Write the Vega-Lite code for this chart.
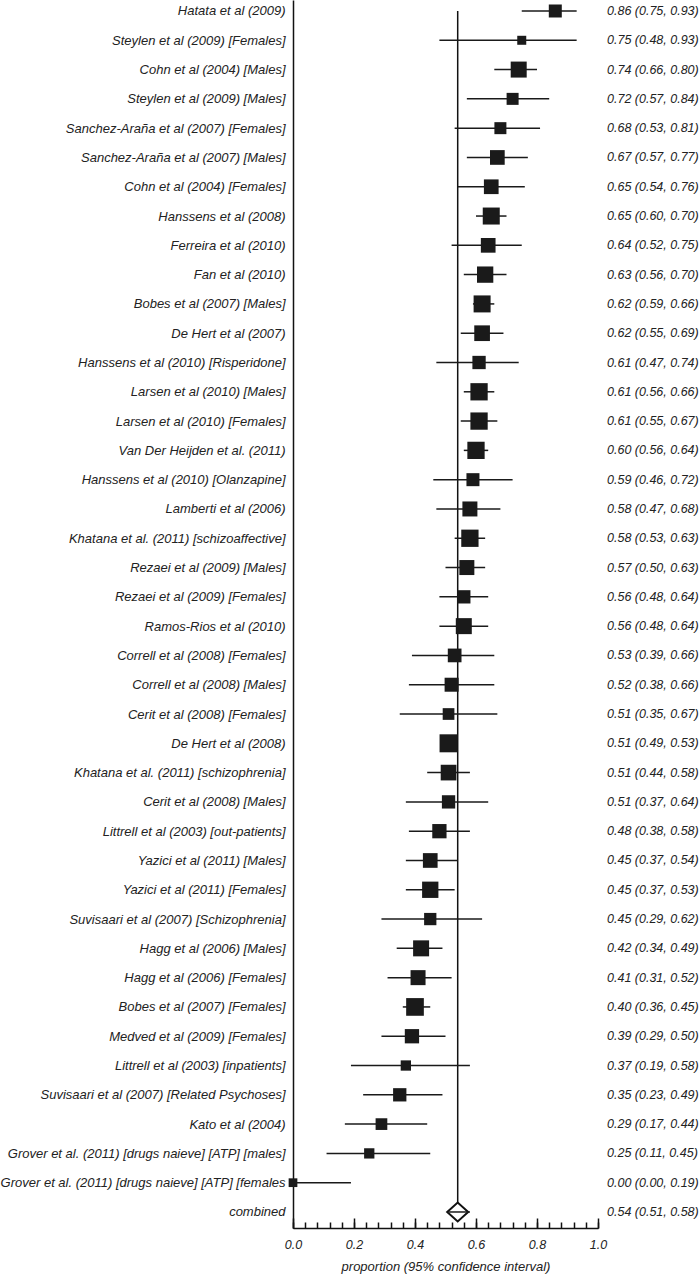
{
  "$schema": "https://vega.github.io/schema/vega-lite/v6.json",
  "width": 305,
  "height": 1228,
  "autosize": {"type": "none"},
  "padding": {"left": 293, "top": 0, "right": 102, "bottom": 46},
  "background": "white",
  "config": {
    "view": {"stroke": null},
    "font": "Liberation Sans",
    "axis": {"labelFont": "Liberation Sans", "titleFont": "Liberation Sans", "labelColor": "#222", "titleColor": "#222", "grid": false}
  },
  "data": {"values": [
    {"label": "Hatata et al (2009)", "est": 0.86, "lo": 0.75, "hi": 0.93, "weight": 16.9, "ci": "0.86 (0.75, 0.93)", "type": "study"},
    {"label": "Steylen et al (2009) [Females]", "est": 0.75, "lo": 0.48, "hi": 0.93, "weight": 8.1, "ci": "0.75 (0.48, 0.93)", "type": "study"},
    {"label": "Cohn et al (2004) [Males]", "est": 0.74, "lo": 0.66, "hi": 0.80, "weight": 25.6, "ci": "0.74 (0.66, 0.80)", "type": "study"},
    {"label": "Steylen et al (2009) [Males]", "est": 0.72, "lo": 0.57, "hi": 0.84, "weight": 14.4, "ci": "0.72 (0.57, 0.84)", "type": "study"},
    {"label": "Sanchez-Araña et al (2007) [Females]", "est": 0.68, "lo": 0.53, "hi": 0.81, "weight": 14.4, "ci": "0.68 (0.53, 0.81)", "type": "study"},
    {"label": "Sanchez-Araña et al (2007) [Males]", "est": 0.67, "lo": 0.57, "hi": 0.77, "weight": 21.6, "ci": "0.67 (0.57, 0.77)", "type": "study"},
    {"label": "Cohn et al (2004) [Females]", "est": 0.65, "lo": 0.54, "hi": 0.76, "weight": 21.6, "ci": "0.65 (0.54, 0.76)", "type": "study"},
    {"label": "Hanssens et al (2008)", "est": 0.65, "lo": 0.60, "hi": 0.70, "weight": 28.9, "ci": "0.65 (0.60, 0.70)", "type": "study"},
    {"label": "Ferreira et al (2010)", "est": 0.64, "lo": 0.52, "hi": 0.75, "weight": 21.6, "ci": "0.64 (0.52, 0.75)", "type": "study"},
    {"label": "Fan et al (2010)", "est": 0.63, "lo": 0.56, "hi": 0.70, "weight": 26.6, "ci": "0.63 (0.56, 0.70)", "type": "study"},
    {"label": "Bobes et al (2007) [Males]", "est": 0.62, "lo": 0.59, "hi": 0.66, "weight": 28.9, "ci": "0.62 (0.59, 0.66)", "type": "study"},
    {"label": "De Hert et al (2007)", "est": 0.62, "lo": 0.55, "hi": 0.69, "weight": 24.6, "ci": "0.62 (0.55, 0.69)", "type": "study"},
    {"label": "Hanssens et al (2010) [Risperidone]", "est": 0.61, "lo": 0.47, "hi": 0.74, "weight": 17.7, "ci": "0.61 (0.47, 0.74)", "type": "study"},
    {"label": "Larsen et al (2010) [Males]", "est": 0.61, "lo": 0.56, "hi": 0.66, "weight": 29.9, "ci": "0.61 (0.56, 0.66)", "type": "study"},
    {"label": "Larsen et al (2010) [Females]", "est": 0.61, "lo": 0.55, "hi": 0.67, "weight": 29.9, "ci": "0.61 (0.55, 0.67)", "type": "study"},
    {"label": "Van Der Heijden et al. (2011)", "est": 0.60, "lo": 0.56, "hi": 0.64, "weight": 29.9, "ci": "0.60 (0.56, 0.64)", "type": "study"},
    {"label": "Hanssens et al (2010) [Olanzapine]", "est": 0.59, "lo": 0.46, "hi": 0.72, "weight": 16.9, "ci": "0.59 (0.46, 0.72)", "type": "study"},
    {"label": "Lamberti et al (2006)", "est": 0.58, "lo": 0.47, "hi": 0.68, "weight": 22.5, "ci": "0.58 (0.47, 0.68)", "type": "study"},
    {"label": "Khatana et al. (2011) [schizoaffective]", "est": 0.58, "lo": 0.53, "hi": 0.63, "weight": 29.9, "ci": "0.58 (0.53, 0.63)", "type": "study"},
    {"label": "Rezaei et al (2009) [Males]", "est": 0.57, "lo": 0.50, "hi": 0.63, "weight": 22.5, "ci": "0.57 (0.50, 0.63)", "type": "study"},
    {"label": "Rezaei et al (2009) [Females]", "est": 0.56, "lo": 0.48, "hi": 0.64, "weight": 17.7, "ci": "0.56 (0.48, 0.64)", "type": "study"},
    {"label": "Ramos-Rios et al (2010)", "est": 0.56, "lo": 0.48, "hi": 0.64, "weight": 25.6, "ci": "0.56 (0.48, 0.64)", "type": "study"},
    {"label": "Correll et al (2008) [Females]", "est": 0.53, "lo": 0.39, "hi": 0.66, "weight": 18.8, "ci": "0.53 (0.39, 0.66)", "type": "study"},
    {"label": "Correll  et al (2008) [Males]", "est": 0.52, "lo": 0.38, "hi": 0.66, "weight": 19.6, "ci": "0.52 (0.38, 0.66)", "type": "study"},
    {"label": "Cerit et al (2008) [Females]", "est": 0.51, "lo": 0.35, "hi": 0.67, "weight": 13.7, "ci": "0.51 (0.35, 0.67)", "type": "study"},
    {"label": "De Hert et al (2008)", "est": 0.51, "lo": 0.49, "hi": 0.53, "weight": 32.4, "ci": "0.51 (0.49, 0.53)", "type": "study"},
    {"label": "Khatana et al. (2011) [schizophrenia]", "est": 0.51, "lo": 0.44, "hi": 0.58, "weight": 24.6, "ci": "0.51 (0.44, 0.58)", "type": "study"},
    {"label": "Cerit et al (2008) [Males]", "est": 0.51, "lo": 0.37, "hi": 0.64, "weight": 17.7, "ci": "0.51 (0.37, 0.64)", "type": "study"},
    {"label": "Littrell et al (2003) [out-patients]", "est": 0.48, "lo": 0.38, "hi": 0.58, "weight": 20.4, "ci": "0.48 (0.38, 0.58)", "type": "study"},
    {"label": "Yazici et al (2011) [Males]", "est": 0.45, "lo": 0.37, "hi": 0.54, "weight": 21.6, "ci": "0.45 (0.37, 0.54)", "type": "study"},
    {"label": "Yazici et al (2011) [Females]", "est": 0.45, "lo": 0.37, "hi": 0.53, "weight": 26.6, "ci": "0.45 (0.37, 0.53)", "type": "study"},
    {"label": "Suvisaari et al (2007) [Schizophrenia]", "est": 0.45, "lo": 0.29, "hi": 0.62, "weight": 15.1, "ci": "0.45 (0.29, 0.62)", "type": "study"},
    {"label": "Hagg et al (2006) [Males]", "est": 0.42, "lo": 0.34, "hi": 0.49, "weight": 25.6, "ci": "0.42 (0.34, 0.49)", "type": "study"},
    {"label": "Hagg et al (2006) [Females]", "est": 0.41, "lo": 0.31, "hi": 0.52, "weight": 22.5, "ci": "0.41 (0.31, 0.52)", "type": "study"},
    {"label": "Bobes et al (2007) [Females]", "est": 0.40, "lo": 0.36, "hi": 0.45, "weight": 31.3, "ci": "0.40 (0.36, 0.45)", "type": "study"},
    {"label": "Medved et al (2009) [Females]", "est": 0.39, "lo": 0.29, "hi": 0.50, "weight": 20.4, "ci": "0.39 (0.29, 0.50)", "type": "study"},
    {"label": "Littrell et al (2003) [inpatients]", "est": 0.37, "lo": 0.19, "hi": 0.58, "weight": 10.6, "ci": "0.37 (0.19, 0.58)", "type": "study"},
    {"label": "Suvisaari et al (2007) [Related Psychoses]", "est": 0.35, "lo": 0.23, "hi": 0.49, "weight": 17.7, "ci": "0.35 (0.23, 0.49)", "type": "study"},
    {"label": "Kato et al (2004)", "est": 0.29, "lo": 0.17, "hi": 0.44, "weight": 13.7, "ci": "0.29 (0.17, 0.44)", "type": "study"},
    {"label": "Grover et al. (2011) [drugs naieve] [ATP] [males]", "est": 0.25, "lo": 0.11, "hi": 0.45, "weight": 10.6, "ci": "0.25 (0.11, 0.45)", "type": "study"},
    {"label": "Grover et al. (2011) [drugs naieve] [ATP] [females", "est": 0.00, "lo": 0.00, "hi": 0.19, "weight": 7.6, "ci": "0.00 (0.00, 0.19)", "type": "study"},
    {"label": "combined", "est": 0.54, "lo": 0.51, "hi": 0.58, "weight": 44.1, "ci": "0.54 (0.51, 0.58)", "type": "pooled"}
  ]},
  "resolve": {"axis": {"x": "independent"}},
  "encoding": {
    "y": {
      "field": "label",
      "type": "nominal",
      "sort": null,
      "scale": {
        "type": "point",
        "padding": 0.461,
        "align": 0.407,
        "domain": [
          "Hatata et al (2009)", "Steylen et al (2009) [Females]", "Cohn et al (2004) [Males]", "Steylen et al (2009) [Males]",
          "Sanchez-Araña et al (2007) [Females]", "Sanchez-Araña et al (2007) [Males]", "Cohn et al (2004) [Females]", "Hanssens et al (2008)",
          "Ferreira et al (2010)", "Fan et al (2010)", "Bobes et al (2007) [Males]", "De Hert et al (2007)",
          "Hanssens et al (2010) [Risperidone]", "Larsen et al (2010) [Males]", "Larsen et al (2010) [Females]", "Van Der Heijden et al. (2011)",
          "Hanssens et al (2010) [Olanzapine]", "Lamberti et al (2006)", "Khatana et al. (2011) [schizoaffective]", "Rezaei et al (2009) [Males]",
          "Rezaei et al (2009) [Females]", "Ramos-Rios et al (2010)", "Correll et al (2008) [Females]", "Correll  et al (2008) [Males]",
          "Cerit et al (2008) [Females]", "De Hert et al (2008)", "Khatana et al. (2011) [schizophrenia]", "Cerit et al (2008) [Males]",
          "Littrell et al (2003) [out-patients]", "Yazici et al (2011) [Males]", "Yazici et al (2011) [Females]", "Suvisaari et al (2007) [Schizophrenia]",
          "Hagg et al (2006) [Males]", "Hagg et al (2006) [Females]", "Bobes et al (2007) [Females]", "Medved et al (2009) [Females]",
          "Littrell et al (2003) [inpatients]", "Suvisaari et al (2007) [Related Psychoses]", "Kato et al (2004)",
          "Grover et al. (2011) [drugs naieve] [ATP] [males]", "Grover et al. (2011) [drugs naieve] [ATP] [females", "combined"
        ]
      },
      "axis": {
        "title": null,
        "ticks": false,
        "labelPadding": 8,
        "labelFontSize": 13,
        "labelFontStyle": "italic",
        "labelLimit": 300,
        "domainColor": "#111",
        "domainWidth": 1.5
      }
    }
  },
  "layer": [
    {
      "transform": [{"filter": "datum.type == 'pooled'"}],
      "mark": {"type": "rule", "color": "#111", "strokeWidth": 1.5},
      "encoding": {
        "x": {"field": "est", "type": "quantitative", "scale": {"domain": [0, 1], "nice": false, "zero": false}, "axis": null},
        "y": {"datum": "Hatata et al (2009)"},
        "y2": {"field": "label"}
      }
    },
    {
      "transform": [{"filter": "datum.type == 'pooled'"}],
      "mark": {"type": "point", "shape": "M-1,0L0,-0.9L1,0L0,0.9Z", "filled": false, "fill": "white", "stroke": "#111", "strokeWidth": 2, "opacity": 1, "size": 441},
      "encoding": {
        "x": {"field": "est", "type": "quantitative", "axis": null}
      }
    },
    {
      "mark": {"type": "rule", "color": "#1a1a1a", "strokeWidth": 1.5},
      "encoding": {
        "x": {
          "field": "lo",
          "type": "quantitative",
          "axis": {
            "orient": "bottom",
            "title": null,
            "values": [0, 0.04, 0.08, 0.12, 0.16, 0.2, 0.24, 0.28, 0.32, 0.36, 0.4, 0.44, 0.48, 0.52, 0.56, 0.6, 0.64, 0.68, 0.72, 0.76, 0.8, 0.84, 0.88, 0.92, 0.96, 1.0],
            "labels": false,
            "tickSize": -6,
            "tickColor": "#111",
            "tickWidth": 1.5,
            "domainColor": "#111",
            "domainWidth": 1.5
          }
        },
        "x2": {"field": "hi"}
      }
    },
    {
      "transform": [{"filter": "datum.type == 'study'"}],
      "mark": {"type": "point", "shape": "square", "filled": true, "color": "#1a1a1a", "opacity": 1},
      "encoding": {
        "x": {
          "field": "est",
          "type": "quantitative",
          "title": "proportion (95% confidence interval)",
          "axis": {
            "orient": "bottom",
            "values": [0, 0.2, 0.4, 0.6, 0.8, 1.0],
            "format": ".1f",
            "tickSize": -10,
            "tickColor": "#111",
            "tickWidth": 1.5,
            "domain": false,
            "labelFlush": false,
            "labelPadding": 20,
            "labelFontSize": 12.5,
            "labelFontStyle": "italic",
            "labelOverlap": false,
            "titleFontSize": 13,
            "titleFontStyle": "italic",
            "titleFontWeight": "normal",
            "titlePadding": 10
          }
        },
        "size": {"field": "weight", "type": "quantitative", "legend": null, "scale": {"domain": [0, 32.4], "range": [0, 324]}}
      }
    },
    {
      "mark": {"type": "text", "align": "left", "baseline": "middle", "dx": 9, "fontSize": 12.5, "fontStyle": "italic", "color": "#222"},
      "encoding": {
        "x": {"datum": 1, "axis": null},
        "text": {"field": "ci"}
      }
    }
  ]
}
